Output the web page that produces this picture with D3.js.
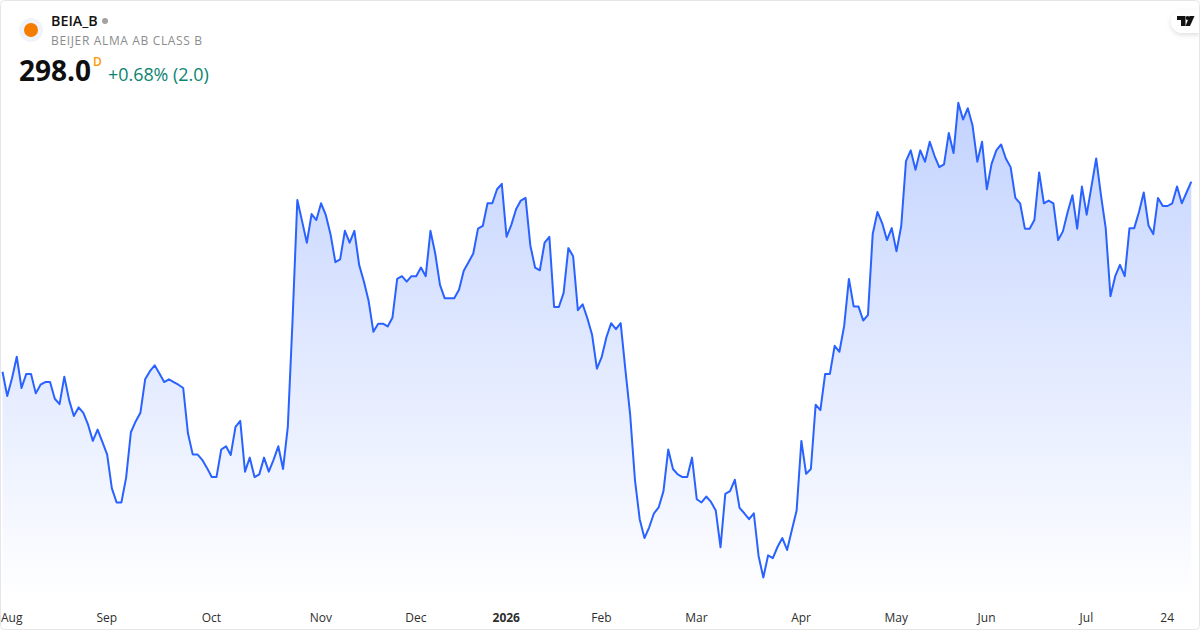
<!DOCTYPE html>
<html>
<head>
<meta charset="utf-8">
<script src="https://cdn.jsdelivr.net/npm/d3@7"></script>
<style>
html,body{margin:0;padding:0;background:#fff}
svg{display:block}
text{font-family:"Open Sans","Noto Sans",sans-serif}
</style>
</head>
<body>
<svg id="chart" width="1200" height="630"></svg>
<script>
const ticker = "BEIA_B";
const companyName = "BEIJER ALMA AB CLASS B";
const lastPrice = "298.0";
const intervalLabel = "D";
const changeLabel = "+0.68% (2.0)";

const closes = [
280.4,278.15,279.8,281.8,278.9,280.2,280.2,278.4,279.2,279.45,279.45,277.9,277.4,279.95,277.8,276.3,277.1,276.6,275.5,274.0,
275.05,273.9,272.75,269.6,268.3,268.3,270.6,274.8,275.8,276.6,279.7,280.45,281.0,280.25,279.45,279.7,279.45,279.2,278.9,274.7,
272.75,272.75,272.25,271.5,270.65,270.65,273.2,273.5,272.7,275.3,275.85,271.15,272.45,270.65,270.9,272.45,271.15,272.25,273.5,271.4,
275.3,285.2,296.3,294.35,292.35,295.0,294.45,296.0,294.9,293.1,290.55,290.8,293.45,292.35,293.45,290.3,288.75,286.95,284.1,284.85,
284.85,284.6,285.4,289.0,289.25,288.75,289.25,289.25,290.05,289.25,293.45,291.35,288.45,287.2,287.2,287.2,288.0,289.75,290.55,291.35,
293.65,293.9,296.0,296.0,297.3,297.8,292.9,294.0,295.45,296.25,296.5,292.1,290.05,289.8,292.35,292.9,286.4,286.4,287.7,291.85,
291.1,286.1,286.65,285.35,283.8,280.7,281.75,283.6,284.9,284.35,284.9,280.55,276.4,270.4,266.75,265.0,266.0,267.3,267.85,269.35,
273.2,271.4,270.9,270.65,270.65,272.45,268.6,268.3,268.85,268.35,267.55,264.15,269.1,269.35,270.4,267.8,267.3,266.75,267.3,263.35,
261.35,263.4,263.15,264.2,265.0,263.9,265.75,267.55,274.0,270.95,271.4,277.35,276.85,280.2,280.2,282.8,282.25,284.65,289.0,286.45,
286.45,285.15,285.65,293.15,295.2,294.15,292.6,293.7,291.55,293.9,299.9,300.9,299.1,300.9,299.85,301.7,300.4,299.35,299.6,302.5,
300.65,305.3,303.75,304.8,303.2,299.85,301.7,297.3,299.65,300.9,301.45,300.15,299.35,296.5,296.0,293.65,293.65,294.45,298.85,296.0,
296.25,296.0,292.6,293.4,295.2,296.75,293.65,297.55,294.95,297.55,300.15,296.75,293.7,287.4,289.25,290.3,289.25,293.7,293.7,295.2,
297.0,293.95,293.15,296.5,295.75,295.75,296.0,297.55,296.0,297.0,298.0
];
const tickIndexes = [2,22,44,67,87,106,126,146,168,188,207,228,245];
const tickLabels = ["Aug","Sep","Oct","Nov","Dec","2026","Feb","Mar","Apr","May","Jun","Jul","24"];

const svg = d3.select("#chart");
const x = d3.scaleLinear().domain([0, closes.length - 1]).range([2.5, 1191.3]);
const y = d3.scaleLinear().domain([260, 306]).range([592.1, 95.3]);
const paneBottom = 602;

const defs = svg.append("defs");
const grad = defs.append("linearGradient").attr("id", "fill")
  .attr("gradientUnits", "userSpaceOnUse").attr("x1", 0).attr("x2", 0)
  .attr("y1", y(d3.max(closes))).attr("y2", paneBottom);
grad.append("stop").attr("offset", 0).attr("stop-color", "#2962ff").attr("stop-opacity", 0.28);
grad.append("stop").attr("offset", 1).attr("stop-color", "#2962ff").attr("stop-opacity", 0);
const blur = defs.append("filter").attr("id", "pillShadow")
  .attr("x", "-50%").attr("y", "-50%").attr("width", "200%").attr("height", "200%");
blur.append("feDropShadow").attr("dx", 0).attr("dy", 2).attr("stdDeviation", 2.5)
  .attr("flood-color", "#000").attr("flood-opacity", 0.13);

svg.append("rect").attr("width", 1200).attr("height", 630).attr("fill", "#fff");

const area = d3.area().x((d, i) => x(i)).y0(paneBottom).y1(d => y(d));
const line = d3.line().x((d, i) => x(i)).y(d => y(d));
svg.append("path").datum(closes).attr("d", area).attr("fill", "url(#fill)");
svg.append("path").datum(closes).attr("d", line).attr("fill", "none")
  .attr("stroke", "#2962ff").attr("stroke-width", 2).attr("stroke-linejoin", "round");

const axis = d3.axisBottom(x).tickValues(tickIndexes)
  .tickFormat((d, i) => tickLabels[i]).tickSize(0).tickPadding(0);
const axisG = svg.append("g").attr("transform", "translate(-0.8,613)").call(axis);
axisG.select(".domain").remove();
axisG.selectAll("text")
  .attr("font-family", '"Open Sans","Noto Sans",sans-serif')
  .attr("font-size", 12).attr("fill", "#2e2e2e").attr("dy", "0.71em")
  .attr("font-weight", (d, i) => tickLabels[i] === "2026" ? 700 : 400);

// Legend
svg.append("circle").attr("cx", 31).attr("cy", 30).attr("r", 12).attr("fill", "#f0f3fa");
svg.append("circle").attr("cx", 31).attr("cy", 30).attr("r", 7).attr("fill", "#f57c00");
svg.append("text").attr("x", 51).attr("y", 26).attr("font-size", 14.3).attr("font-weight", 600)
  .attr("fill", "#131313").text(ticker);
svg.append("circle").attr("cx", 105).attr("cy", 21).attr("r", 3).attr("fill", "#a3a3a3");
svg.append("text").attr("x", 51).attr("y", 45).attr("font-size", 12).attr("fill", "#8c8c8c")
  .attr("letter-spacing", 0.65).text(companyName);
svg.append("text").attr("x", 19).attr("y", 81).attr("font-size", 28).attr("font-weight", 700)
  .attr("fill", "#0f0f0f").text(lastPrice);
svg.append("text").attr("x", 93).attr("y", 66).attr("font-size", 12).attr("font-weight", 600)
  .attr("fill", "#ff9800").text(intervalLabel);
svg.append("text").attr("x", 108).attr("y", 81).attr("font-size", 17.9).attr("fill", "#0b8470")
  .text(changeLabel);

// Logo pill
svg.append("path").attr("d", "M1200 10H1183a12 11.5 0 0 0 0 23H1200Z")
  .attr("fill", "#fff").attr("filter", "url(#pillShadow)");
svg.append("path").attr("d", "M1177 16H1185.5V26H1181V20H1177Z").attr("fill", "#131313");
svg.append("circle").attr("cx", 1187.6).attr("cy", 18).attr("r", 2).attr("fill", "#131313");
svg.append("path").attr("d", "M1189.5 16H1194.5L1190 26H1185.5Z").attr("fill", "#131313");

// Frame
svg.append("rect").attr("x", 0.5).attr("y", 0.5).attr("width", 1199).attr("height", 629)
  .attr("rx", 4).attr("fill", "none").attr("stroke", "#e6e6e6");
</script>
</body>
</html>
